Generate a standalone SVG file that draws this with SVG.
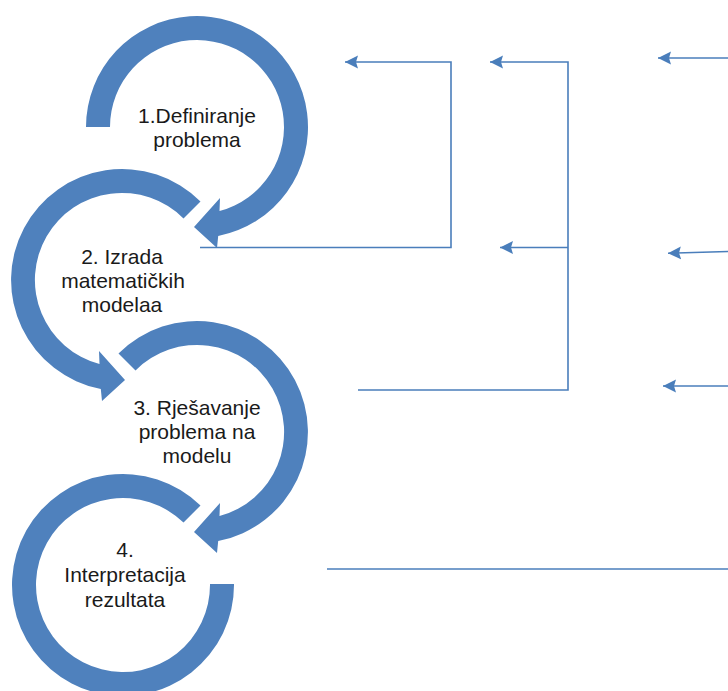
<svg xmlns="http://www.w3.org/2000/svg" width="728" height="691" viewBox="0 0 728 691">
  <defs>
    <style>
      .band { fill: #4F81BD; }
      .lbl { font-family: "Liberation Sans", Arial, sans-serif; font-size: 21px; fill: #1a1a1a; text-anchor: middle; }
      .conn { fill: none; stroke: #4A7EBB; stroke-width: 1.6; }
    </style>
    <marker id="ah" markerUnits="userSpaceOnUse" markerWidth="14" markerHeight="14" refX="13" refY="7" orient="auto">
      <path d="M0,0.5 L13,7 L0,13.5 L2,7 z" fill="#4A7EBB"/>
    </marker>
  </defs>

  <rect width="728" height="691" fill="#ffffff"/>

  <g id="node1">
    <path class="band" d="M86,127 A111,111 0 1 1 218.2,236 L217,248 L194,227 L220,198 L219.5,211 A87,87 0 1 0 110,127 Z"/>
    <text class="lbl" x="197" y="123">1.Definiranje</text>
    <text class="lbl" x="197" y="147">problema</text>
  </g>

  <g id="node2">
    <path class="band" d="M200.5,201.5 A111,111 0 1 0 100.8,389 L102,401 L125,380 L99,351 L99.5,364 A87,87 0 1 1 183.5,218.5 Z"/>
    <text class="lbl" x="122" y="264">2. Izrada</text>
    <text class="lbl" x="123" y="288">matematičkih</text>
    <text class="lbl" x="122" y="312">modelaa</text>
  </g>

  <g id="node3">
    <path class="band" d="M118.5,353.5 A111,111 0 1 1 218.2,541 L217,553 L194,532 L220,503 L219.5,516 A87,87 0 1 0 135.5,370.5 Z"/>
    <text class="lbl" x="197" y="415">3. Rješavanje</text>
    <text class="lbl" x="197" y="439">problema na</text>
    <text class="lbl" x="197" y="463">modelu</text>
  </g>

  <g id="node4">
    <path class="band" d="M200.5,505.5 A111,111 0 1 0 234,584 L210,584 A87,87 0 1 1 183.5,522.5 Z"/>
    <text class="lbl" x="125" y="557">4.</text>
    <text class="lbl" x="125" y="582">Interpretacija</text>
    <text class="lbl" x="125" y="607">rezultata</text>
  </g>

  <g id="connectors">
    <path class="conn" d="M200,247.5 H451 V62 H345" marker-end="url(#ah)"/>
    <path class="conn" d="M358,390 H568 V62 H490" marker-end="url(#ah)"/>
    <path class="conn" d="M568,247.5 H500" marker-end="url(#ah)"/>
    <path class="conn" d="M728,58 H658" marker-end="url(#ah)"/>
    <path class="conn" d="M728,251.5 L668,253.3" marker-end="url(#ah)"/>
    <path class="conn" d="M728,386 H663" marker-end="url(#ah)"/>
    <path class="conn" d="M327,569 H728"/>
  </g>
</svg>
